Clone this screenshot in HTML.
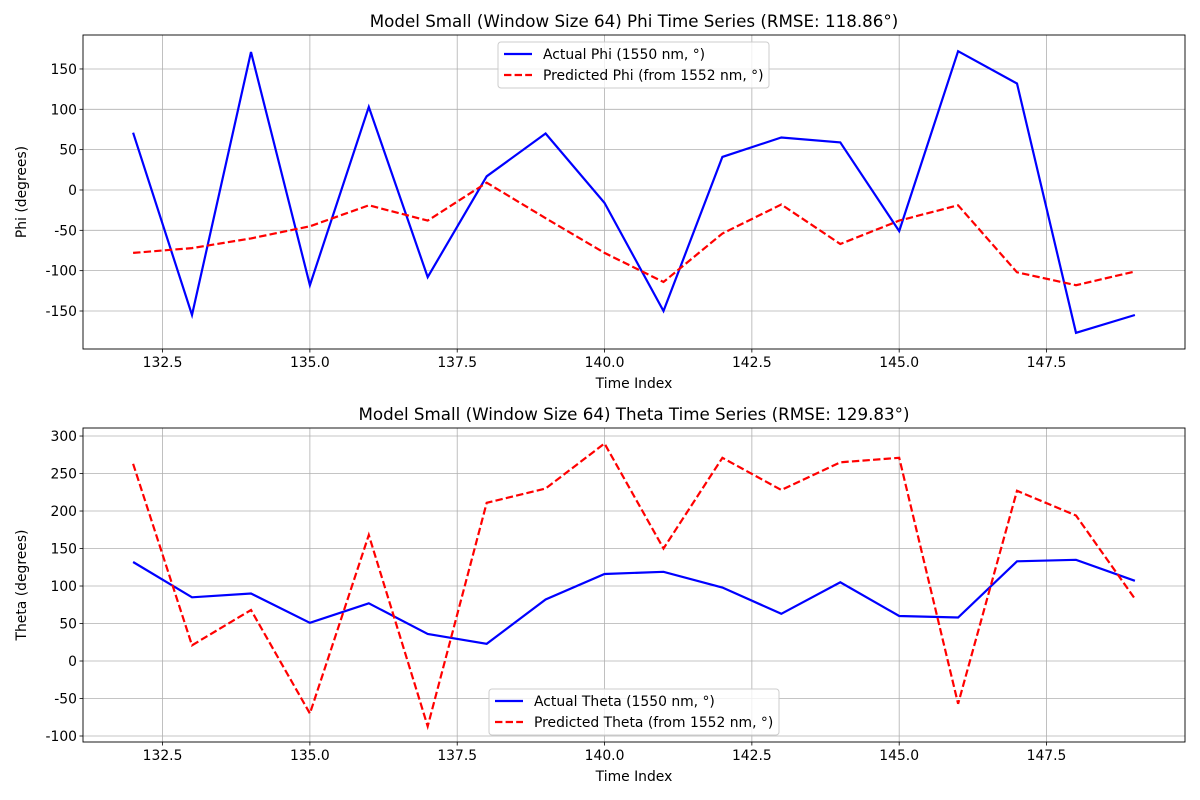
<!DOCTYPE html>
<html><head><meta charset="utf-8"><style>
body{margin:0;background:#fff}
svg{display:block;font-family:"DejaVu Sans","Liberation Sans",sans-serif}
</style></head><body>
<svg id="c" width="1200" height="800" viewBox="0 0 1200 800" xmlns="http://www.w3.org/2000/svg"></svg>
<script>
const timeIndex=[132,133,134,135,136,137,138,139,140,141,142,143,144,145,146,147,148,149];
const actualPhi=[71,-155,171,-118,103,-108,17,70,-16,-150,41,65,59,-51,172,132,-177,-155];
const predPhi=[-78,-72,-60,-45,-19,-38,9,-35,-78,-114,-54,-18,-67,-38,-19,-102,-118,-101];
const actualTheta=[132,85,90,51,77,36,23,82,116,119,98,63,105,60,58,133,135,107];
const predTheta=[263,21,68,-70,168,-87,211,230,290,150,271,228,265,271,-57,227,194,83];
const xTicks=[132.5,135.0,137.5,140.0,142.5,145.0,147.5];
const phiTicks=[-150,-100,-50,0,50,100,150];
const thetaTicks=[-100,-50,0,50,100,150,200,250,300];
const NS="http://www.w3.org/2000/svg";
const svg=document.getElementById('c');
function el(t,a,p){const e=document.createElementNS(NS,t);for(const k in a)e.setAttribute(k,a[k]);(p||svg).appendChild(e);return e;}
function panel(o){
 const g=el('g',{});
 
 
 const L=83,R=1185,T=o.top,B=o.top+314;
 const xs=v=>L+(v-131.15)/(149.85-131.15)*(R-L);
 const ys=v=>B-(v-o.ymin)/(o.ymax-o.ymin)*(B-T);
 o.yt.forEach(v=>{const y=ys(v);
  el('line',{x1:L,x2:R,y1:y,y2:y,stroke:'#b0b0b0','stroke-width':0.8},g);
  el('line',{x1:L-3.5,x2:L,y1:y,y2:y,stroke:'#000','stroke-width':0.8},g);
  const t=el('text',{x:L-6,y:y+5,'text-anchor':'end','font-size':13.9},g);t.textContent=v;
  });
 xTicks.forEach(v=>{const x=xs(v);
  el('line',{x1:x,x2:x,y1:T,y2:B,stroke:'#b0b0b0','stroke-width':0.8},g);
  el('line',{x1:x,x2:x,y1:B,y2:B+3.5,stroke:'#000','stroke-width':0.8},g);
  const t=el('text',{x:x,y:B+18,'text-anchor':'middle','font-size':13.9},g);t.textContent=v.toFixed(1);
  });
 const series=[[o.a,'#0000ff',''],[o.p,'#ff0000','7.4,3.2']];
 series.forEach(([d,c,da],i)=>{
  const pts=d.map((v,j)=>xs(timeIndex[j]).toFixed(1)+','+ys(v).toFixed(1)).join(' ');
  const pl=el('polyline',{points:pts,fill:'none',stroke:c,'stroke-width':2.2,'stroke-dasharray':da},g);
  
  });
 el('rect',{x:L,y:T,width:R-L,height:B-T,fill:'none',stroke:'#000','stroke-width':0.9},g);
 const ti=el('text',{x:(L+R)/2,y:T-8,'text-anchor':'middle','font-size':16.7},g);ti.textContent=o.title;
 
 const xl=el('text',{x:(L+R)/2,y:B+39,'text-anchor':'middle','font-size':13.9},g);xl.textContent='Time Index';
 
 const yl=el('text',{x:0,y:0,'text-anchor':'middle','font-size':13.9,transform:`translate(26,${(T+B)/2}) rotate(-90)`},g);yl.textContent=o.ylab;
 
 const lg=el('g',{},g);
 
 el('rect',{x:o.lx,y:o.ly,width:o.lw,height:46,rx:3,fill:'#fff','fill-opacity':0.8,stroke:'#ccc'},lg);
 o.labels.forEach((s,i)=>{const y=o.ly+12+i*21;
  el('line',{x1:o.lx+6,x2:o.lx+34,y1:y,y2:y,stroke:i?'#ff0000':'#0000ff','stroke-width':2.2,'stroke-dasharray':i?'7.4,3.2':''},lg);
  const t=el('text',{x:o.lx+45,y:y+5,'font-size':13.9},lg);t.textContent=s;
  });
}
panel({name:'phi-panel',top:35,ymin:-197.1,ymax:192.1,yt:phiTicks,a:actualPhi,p:predPhi,
 title:'Model Small (Window Size 64) Phi Time Series (RMSE: 118.86°)',ylab:'Phi (degrees)',
 lx:498,ly:42,lw:271,labels:['Actual Phi (1550 nm, °)','Predicted Phi (from 1552 nm, °)']});
panel({name:'theta-panel',top:428,ymin:-108,ymax:310.7,yt:thetaTicks,a:actualTheta,p:predTheta,
 title:'Model Small (Window Size 64) Theta Time Series (RMSE: 129.83°)',ylab:'Theta (degrees)',
 lx:489,ly:689,lw:290,labels:['Actual Theta (1550 nm, °)','Predicted Theta (from 1552 nm, °)']});
</script>
</body></html>
